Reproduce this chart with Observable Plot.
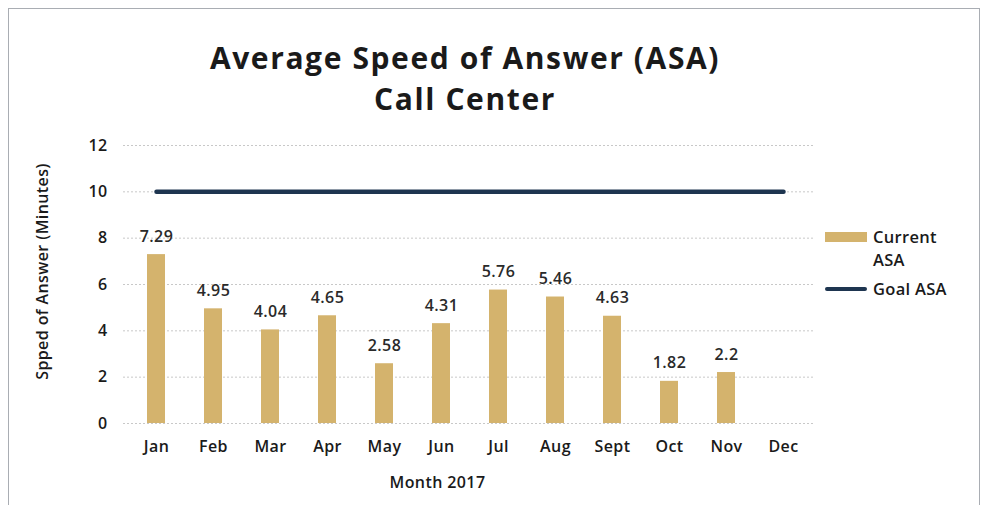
<!DOCTYPE html>
<html><head><meta charset="utf-8">
<script src="https://cdn.jsdelivr.net/npm/d3@7"></script>
<script src="https://cdn.jsdelivr.net/npm/@observablehq/plot@0.6"></script>
<style>
html,body{margin:0;padding:0;background:#fff;}
body{width:984px;height:505px;overflow:hidden;position:relative;font-family:"Open Sans",sans-serif;}
#frame{position:absolute;left:8px;top:8px;width:972px;height:520px;border:1px solid #a9adb3;box-sizing:border-box;}
#title{position:absolute;left:0;top:37px;width:930px;text-align:center;font-weight:700;font-size:30px;letter-spacing:1.6px;line-height:41px;color:#1a1a1a;}
#chart{position:absolute;left:0;top:125px;}
#legend{position:absolute;left:825px;top:225px;font-size:16.5px;font-weight:600;color:#1a1a1a;line-height:23px;letter-spacing:0.3px;}
.row{display:flex;align-items:flex-start;}
.sw{width:42px;height:10px;margin-top:7px;margin-right:6px;}
</style></head>
<body>
<div id="frame"></div>
<div id="title">Average Speed of Answer (ASA)<br>Call Center</div>
<div id="chart"></div>
<div id="legend"></div>
<script>
const months = ["Jan","Feb","Mar","Apr","May","Jun","Jul","Aug","Sept","Oct","Nov","Dec"];
const currentASA = [7.29,4.95,4.04,4.65,2.58,4.31,5.76,5.46,4.63,1.82,2.2,null];
const goalASA = [10,10,10,10,10,10,10,10,10,10,10,10];
const yTicks = [0,2,4,6,8,10,12];
const seriesNames = ["Current ASA","Goal ASA"];
const barColor = "#d4b36d";
const goalColor = "#1e3550";

const data = months.map((m,i)=>({month:m, current:currentASA[i], goal:goalASA[i]}));
const bars = data.filter(d=>d.current!=null);

const chart = Plot.plot({
  width: 984,
  height: 380,
  marginTop: 20,
  marginBottom: 82,
  marginLeft: 123,
  marginRight: 169,
  style: {fontFamily: "Open Sans, sans-serif", fontSize: "16px", fontWeight: 600, color: "#1a1a1a", background: "transparent", letterSpacing: "0.4px"},
  x: {domain: months, paddingInner: 0.69, paddingOuter: 0.345, label: null},
  y: {domain: [0,12], ticks: yTicks, label: null},
  marks: [
    Plot.gridY(yTicks, {stroke: "#c8c8c8", strokeOpacity: 1, strokeDasharray: "2,2"}),
    Plot.barY(bars, {x: "month", y: "current", fill: barColor}),
    Plot.text(bars, {x: "month", y: "current", text: d => String(d.current), dy: -18, fontSize: 16, fontWeight: 600, fill: "#2a2a2a"}),
    Plot.line(data, {x: "month", y: "goal", stroke: goalColor, strokeWidth: 4.5}),
    Plot.axisX({tickSize: 0, tickPadding: 17, label: null, fontSize: 16}),
    Plot.axisY({ticks: yTicks, tickSize: 0, tickPadding: 16, label: null, fontSize: 16}),
    Plot.text(["Month 2017"], {frameAnchor: "bottom", dx: -32, dy: 64, fontSize: 16, fontWeight: 600, fill: "#1a1a1a"}),
    Plot.text(["Spped of Answer (Minutes)"], {frameAnchor: "left", textAnchor: "middle", dx: -81, dy: -13, rotate: -90, fontSize: 16, fontWeight: 600, fill: "#1a1a1a"})
  ]
});
document.getElementById("chart").appendChild(chart);

const lg = document.getElementById("legend");
lg.innerHTML =
  `<div class="row"><div class="sw" style="background:${barColor}"></div><div>Current<br>ASA</div></div>` +
  `<div class="row" style="margin-top:6px"><div class="sw" style="height:4px;margin-top:10px;background:${goalColor};border-radius:2px"></div><div>${seriesNames[1]}</div></div>`;
</script>
</body></html>
